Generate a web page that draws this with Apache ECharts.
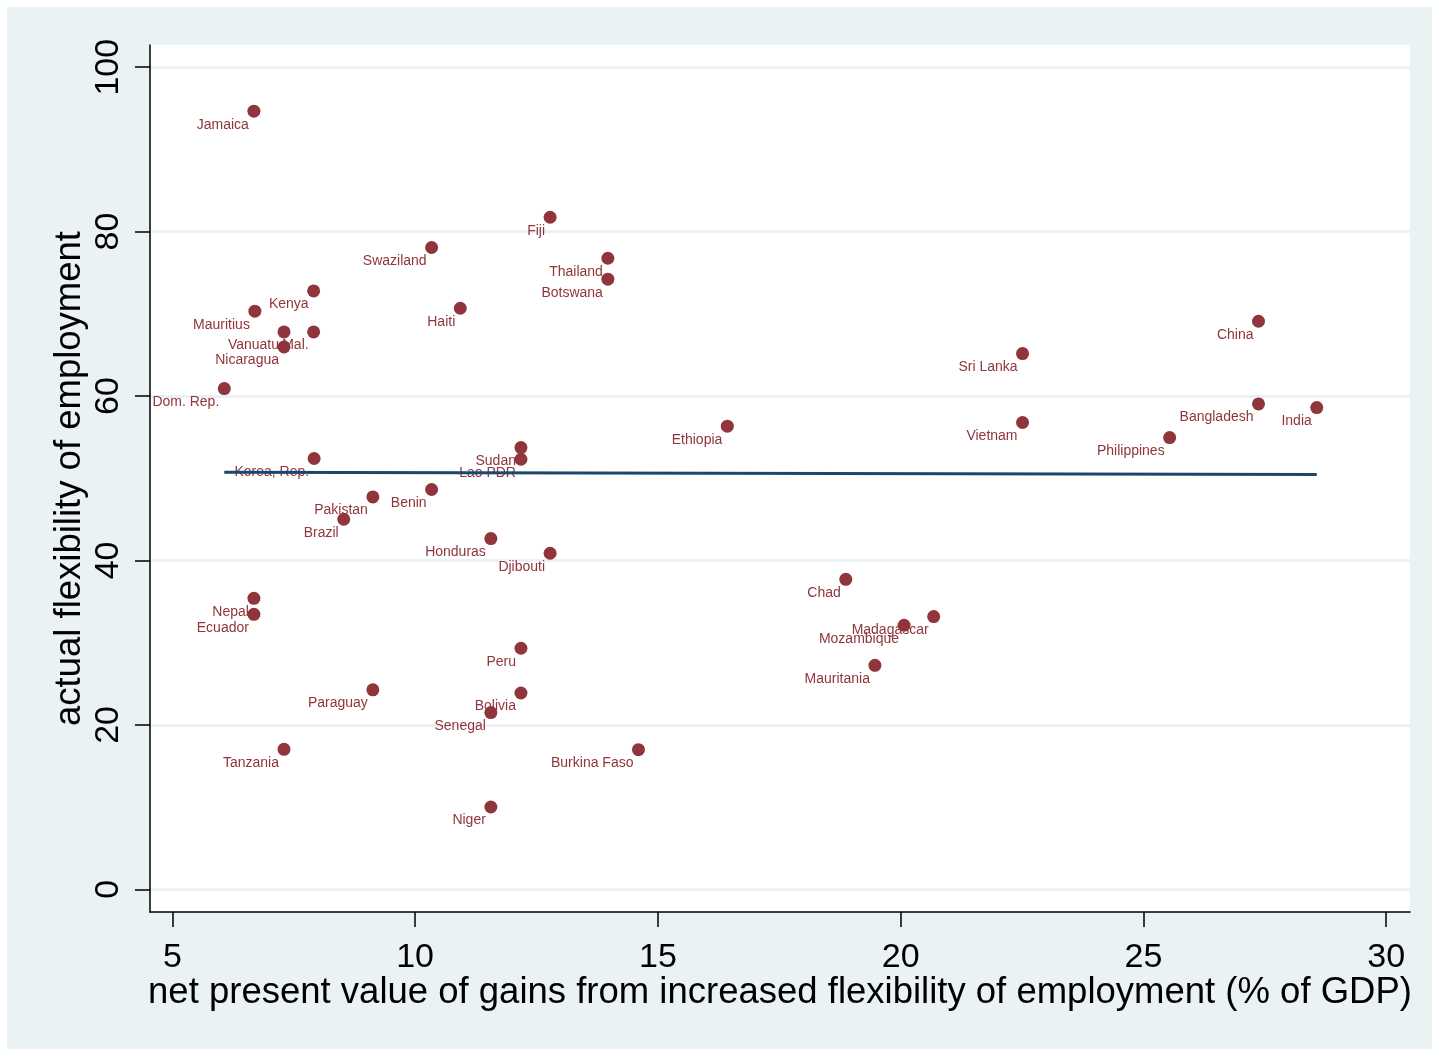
<!DOCTYPE html>
<html>
<head>
<meta charset="utf-8">
<script src="https://cdn.jsdelivr.net/npm/echarts@6/dist/echarts.min.js"></script>
<style>
  html, body { margin: 0; padding: 0; background: #ffffff; }
  #chart { width: 1432px; height: 1049px; }
</style>
</head>
<body>
<div id="chart"></div>
<script>
// Countries, NPV of gains from flexibility (% of GDP) and actual flexibility score
const countries = [
  'Jamaica', 'Fiji', 'Swaziland', 'Thailand', 'Botswana', 'Kenya', 'Mauritius', 'Haiti',
  'Vanuatu', 'Mal.', 'Nicaragua', 'Dom. Rep.', 'Ethiopia', 'Sri Lanka', 'China', 'Bangladesh',
  'India', 'Vietnam', 'Philippines', 'Korea, Rep.', 'Sudan', 'Lao PDR', 'Benin', 'Pakistan',
  'Brazil', 'Honduras', 'Djibouti', 'Chad', 'Madagascar', 'Mozambique', 'Mauritania', 'Nepal',
  'Ecuador', 'Peru', 'Paraguay', 'Bolivia', 'Senegal', 'Tanzania', 'Burkina Faso', 'Niger'
];
const npvGains = [
  6.68, 12.78, 10.34, 13.97, 13.97, 7.91, 6.70, 10.93,
  7.30, 7.91, 7.30, 6.07, 16.43, 22.51, 27.37, 27.37,
  28.57, 22.51, 25.54, 7.92, 12.18, 12.18, 10.34, 9.13,
  8.53, 11.56, 12.78, 18.87, 20.68, 20.07, 19.47, 6.68,
  6.68, 12.18, 9.13, 12.18, 11.56, 7.30, 14.60, 11.56
];
const flexibility = [
  94.65, 81.75, 78.07, 76.76, 74.21, 72.79, 70.32, 70.68,
  67.80, 67.80, 65.97, 60.91, 56.33, 65.17, 69.10, 59.04,
  58.60, 56.78, 54.95, 52.40, 53.73, 52.31, 48.63, 47.73,
  45.01, 42.66, 40.88, 37.71, 33.18, 32.12, 27.25, 35.40,
  33.45, 29.32, 24.27, 23.88, 21.50, 17.03, 16.99, 10.01
];
// Linear fit evaluated at the ends of the observed range
const fitX = [6.07, 28.57];
const fitY = [50.72, 50.47];

const yTicks = [0, 20, 40, 60, 80, 100];
const xTicks = [5, 10, 15, 20, 25, 30];

const MAROON = '#90353b';
const NAVY = '#1a476f';
const BLUISH = '#eaf2f3';
const FONT = '"Liberation Sans", Arial, Helvetica, sans-serif';
const MARKER = 13;

const points = countries.map((c, i) => ({ name: c, value: [npvGains[i], flexibility[i]] }));
const fitLine = fitX.map((x, i) => [x, fitY[i]]);

const chart = echarts.init(document.getElementById('chart'), null, { renderer: 'canvas' });
chart.setOption({
  animation: false,
  backgroundColor: '#ffffff',
  textStyle: { fontFamily: FONT },
  graphic: [{
    type: 'rect', z: -10, silent: true,
    shape: { x: 7, y: 7, width: 1425, height: 1042 },
    style: { fill: BLUISH }
  }],
  grid: {
    left: 150, top: 45, right: 22, bottom: 137,
    show: true, backgroundColor: '#ffffff', borderWidth: 0
  },
  xAxis: {
    type: 'value', min: 4.54, max: 30.49,
    name: 'net present value of gains from increased flexibility of employment (% of GDP)',
    nameLocation: 'middle', nameGap: 62, nameMoveOverlap: false,
    nameTextStyle: { fontSize: 36.5, color: '#000', fontFamily: FONT },
    axisLine: { show: true, onZero: false, lineStyle: { color: '#000', width: 1.5 } },
    axisTick: { show: true, length: 15, customValues: xTicks, lineStyle: { color: '#000', width: 1.5 } },
    axisLabel: { customValues: xTicks, fontSize: 34, color: '#000', margin: 29, fontFamily: FONT },
    splitLine: { show: false }
  },
  yAxis: {
    type: 'value', min: -2.76, max: 102.7,
    name: 'actual flexibility of employment',
    nameLocation: 'middle', nameGap: 62, nameRotate: 90, nameMoveOverlap: false,
    nameTextStyle: { fontSize: 36.5, color: '#000', fontFamily: FONT },
    axisLine: { show: true, onZero: false, lineStyle: { color: '#000', width: 1.5 } },
    axisTick: { show: true, length: 15, customValues: yTicks, lineStyle: { color: '#000', width: 1.5 } },
    axisLabel: { customValues: yTicks, rotate: 90, fontSize: 34, color: '#000', margin: 24, fontFamily: FONT },
    splitLine: { show: true, lineStyle: { color: BLUISH, width: 3 } }
  },
  series: [
    {
      type: 'scatter',
      data: points,
      symbol: 'circle',
      symbolSize: MARKER,
      itemStyle: { color: MAROON, opacity: 1 },
      label: {
        show: true,
        formatter: p => p.name,
        // below-left of the marker, right-aligned
        position: [MARKER / 2 - 5, MARKER / 2 + 13.5],
        align: 'right',
        verticalAlign: 'middle',
        fontSize: 14,
        color: MAROON,
        fontFamily: FONT
      },
      labelLayout: { hideOverlap: false },
      z: 3
    },
    {
      type: 'line',
      data: fitLine,
      symbol: 'none',
      lineStyle: { color: NAVY, width: 3 },
      z: 4
    }
  ]
});
</script>
</body>
</html>
